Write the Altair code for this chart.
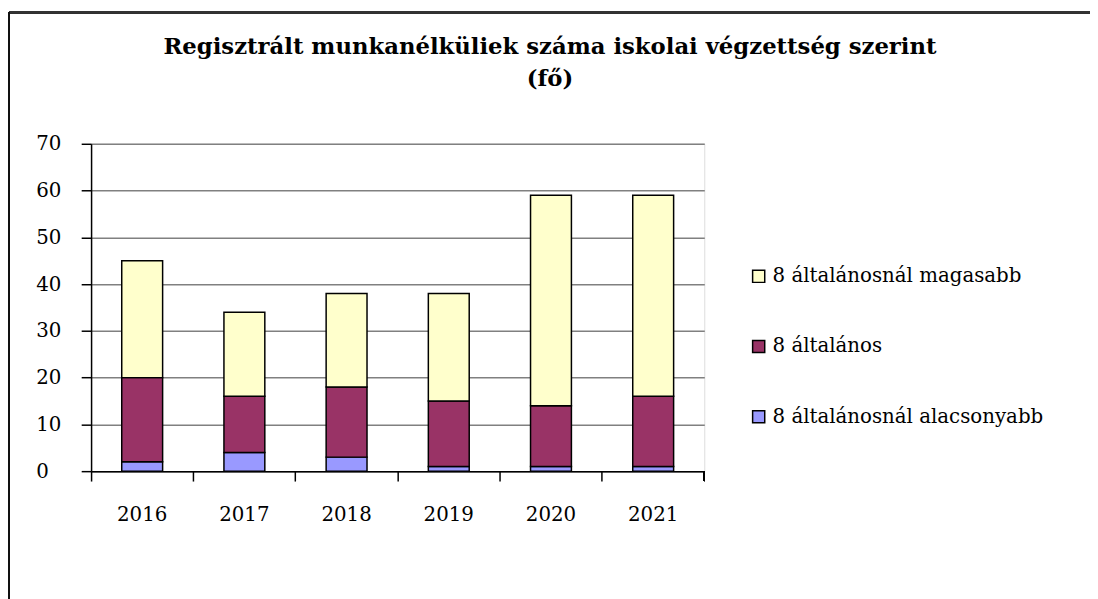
import altair as alt
import pandas as pd

years = ["2016", "2017", "2018", "2019", "2020", "2021"]
series = ["8 általánosnál magasabb", "8 általános", "8 általánosnál alacsonyabb"]
low = [2, 4, 3, 1, 1, 1]
mid = [18, 12, 15, 14, 13, 15]
high = [25, 18, 20, 23, 45, 43]
colors = ["#FFFFCC", "#993366", "#9999FF"]

rows = []
for i, y in enumerate(years):
    rows.append({"ev": y, "kat": series[2], "fo": low[i], "rend": 0})
    rows.append({"ev": y, "kat": series[1], "fo": mid[i], "rend": 1})
    rows.append({"ev": y, "kat": series[0], "fo": high[i], "rend": 2})
df = pd.DataFrame(rows)

FONT = "DejaVu Serif"

bars = alt.Chart(df).mark_bar(stroke="black", strokeWidth=1.5, width=alt.RelativeBandSize(0.4)).encode(
    x=alt.X("ev:N", sort=years, title=None,
            scale=alt.Scale(paddingInner=0, paddingOuter=0),
            axis=alt.Axis(labelAngle=0, bandPosition=0, tickSize=10, tickColor="black", tickWidth=1.5,
                          domainColor="black", domainWidth=1.5, labelPadding=24,
                          labelFont=FONT, labelFontSize=20, labelColor="black", grid=False)),
    y=alt.Y("fo:Q", stack="zero", title=None,
            scale=alt.Scale(domain=[0, 70], nice=False),
            axis=alt.Axis(values=[0, 10, 20, 30, 40, 50, 60, 70], tickSize=10, tickColor="black", tickWidth=1.5,
                          domainColor="black", domainWidth=1.5, labelAlign="left", labelPadding=46,
                          labelFont=FONT, labelFontSize=20, labelColor="black",
                          grid=True, gridColor="#808080", gridWidth=1.5)),
    color=alt.Color("kat:N", scale=alt.Scale(domain=series, range=colors), title=None,
                    legend=alt.Legend(orient="none", legendX=665, legendY=124, symbolType="square",
                                      symbolSize=150, symbolStrokeColor="black", symbolStrokeWidth=1.5,
                                      symbolOpacity=1, labelFont=FONT, labelFontSize=20, labelColor="black",
                                      rowPadding=51, padding=0, labelOffset=4, labelLimit=400)),
    order=alt.Order("rend:Q"),
)

last_tick = alt.Chart(df).mark_rule(color="black", strokeWidth=1.5, clip=False).encode(
    x=alt.value(620), y=alt.value(331), y2=alt.value(341))
frame_top = alt.Chart(df).mark_rule(color="#333333", strokeWidth=2, clip=False).encode(
    x=alt.value(-83), x2=alt.value(1030), y=alt.value(-133))
frame_left = alt.Chart(df).mark_rule(color="#111111", strokeWidth=2, clip=False).encode(
    x=alt.value(-83), y=alt.value(-133), y2=alt.value(480))

chart = alt.layer(bars, last_tick, frame_top, frame_left).properties(
    width=620, height=331,
    title=alt.TitleParams(text=["Regisztrált munkanélküliek száma iskolai végzettség szerint", "(fő)"],
                          font=FONT, fontSize=23, fontWeight="bold", color="black", frame="group",
                          anchor="middle", dx=154, offset=-81, lineHeight=33),
    autosize=alt.AutoSizeParams(type="none"),
    padding={"left": 84, "top": 134, "right": 390, "bottom": 130},
).configure_view(stroke=None).configure(background="white")

chart.save("out.html", embed_options={"renderer": "svg", "actions": False})
